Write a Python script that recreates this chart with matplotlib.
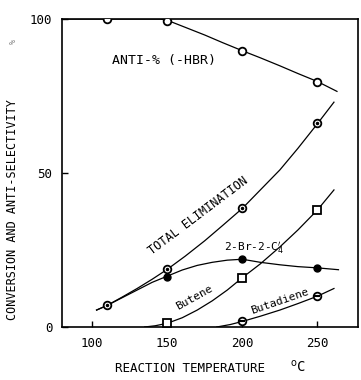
import matplotlib
matplotlib.use("Agg")
import matplotlib.pyplot as plt

plt.rcParams['font.family'] = ['DejaVu Sans Mono']

# ---- measured points (temperature in C, percent) ----
temp_pts = [110, 150, 200, 250]
anti_pts = [100, 99.3, 89.5, 79.5]
total_pts = [7, 18.7, 38.5, 66.3]
brc4_pts = [16.3, 22, 19.2]
brc4_T = [150, 200, 250]
butene_T = [150, 200, 250]
butene_pts = [1.2, 16, 38]
butadiene_T = [200, 250]
butadiene_pts = [1.8, 10]

# ---- hand-drawn curves ----
anti_curve_T = [80, 145, 150, 162, 175, 187, 200, 212, 225, 237, 250, 263]
anti_curve = [100, 100, 99.6, 97.3, 94.8, 92.3, 89.7, 87.4, 84.8, 82.3, 79.7, 76.5]
total_curve_T = [103, 110, 120, 130, 140, 150, 162, 175, 187, 200, 212, 225, 237, 250, 261]
total_curve = [5.5, 7, 9.7, 12.5, 15.5, 18.7, 23, 28, 33, 38.5, 44.5, 51, 58, 66, 73]
brc4_curve_T = [103, 110, 120, 130, 140, 150, 160, 170, 180, 190, 200, 212, 225, 237, 250, 264]
brc4_curve = [5.5, 7, 9.5, 12, 14.5, 16.5, 18.5, 20, 21, 21.7, 22, 21, 20.2, 19.6, 19.2, 18.6]
butene_curve_T = [135, 142, 150, 160, 170, 180, 190, 200, 212, 225, 237, 250, 261]
butene_curve = [0, 0.4, 1.2, 3, 5.5, 8.5, 12, 16, 20.5, 26, 31.5, 38, 44.5]
butadiene_curve_T = [183, 192, 200, 212, 225, 237, 250, 261]
butadiene_curve = [0, 0.8, 1.8, 3.5, 5.5, 7.6, 10, 12.5]

fig = plt.figure(figsize=(3.61, 3.80), dpi=100)
ax = fig.add_axes([62/361, 1 - 327/380, 296/361, 308/380])

lw = 0.9
ax.plot(anti_curve_T, anti_curve, color="black", lw=lw)
ax.plot(total_curve_T, total_curve, color="black", lw=lw)
ax.plot(brc4_curve_T, brc4_curve, color="black", lw=lw)
ax.plot(butene_curve_T, butene_curve, color="black", lw=lw)
ax.plot(butadiene_curve_T, butadiene_curve, color="black", lw=lw)

mk = dict(ls="none", mec="black", mew=1.3, ms=5.5, zorder=5)
ax.plot(temp_pts, anti_pts, marker="o", mfc="white", **mk)
ax.plot(temp_pts, total_pts, marker="o", mfc="white", **mk)
ax.plot(temp_pts, total_pts, marker=".", color="black", ls="none", ms=3, zorder=6)
ax.plot(brc4_T, brc4_pts, marker="o", mfc="black", ls="none", mec="black",
        ms=5, zorder=5)
ax.plot(butene_T, butene_pts, marker="s", mfc="white", **mk)
ax.plot(butadiene_T, butadiene_pts, marker="o", mfc="white", **mk)
ax.plot(butadiene_T, butadiene_pts, marker="_", color="black", ls="none",
        ms=5, mew=1.5, zorder=6)

ax.set_xlim(80, 277)
ax.set_ylim(0, 100)
ax.set_xticks([100, 150, 200, 250])
ax.set_yticks([0, 50, 100])
ax.tick_params(direction="in", length=4, width=1, labelsize=9, pad=7)
for s in ax.spines.values():
    s.set_linewidth(1.2)

# ---- curve labels ----
tk = dict(color="black", ha="center", va="center")
ax.text(148, 86.5, "ANTI-% (-HBR)", fontsize=9.5, **tk)
ax.text(171, 36, "TOTAL ELIMINATION", rotation=37, fontsize=8.5, **tk)
ax.text(208, 25.8, "2-Br-2-C$_4^{\\prime}$", fontsize=8, **tk)
ax.text(168, 9.4, "Butene", rotation=29, fontsize=8, **tk)
ax.text(225, 8.5, "Butadiene", rotation=19, fontsize=8, **tk)

fig.text(13/361, 1 - 210/380, "CONVERSION AND ANTI-SELECTIVITY", rotation=90,
         ha="center", va="center", fontsize=8.5)
fig.text(13/361, 1 - 42/380, "%", rotation=90, ha="center", va="center",
         fontsize=6, color="#888888")
fig.text(190/361, 1 - 368/380, "REACTION TEMPERATURE", ha="center",
         va="center", fontsize=9)
fig.text(298/361, 1 - 367/380, "$^{\\mathrm{o}}$C", ha="center",
         va="center", fontsize=10)

fig.savefig("out.png", dpi=100)
